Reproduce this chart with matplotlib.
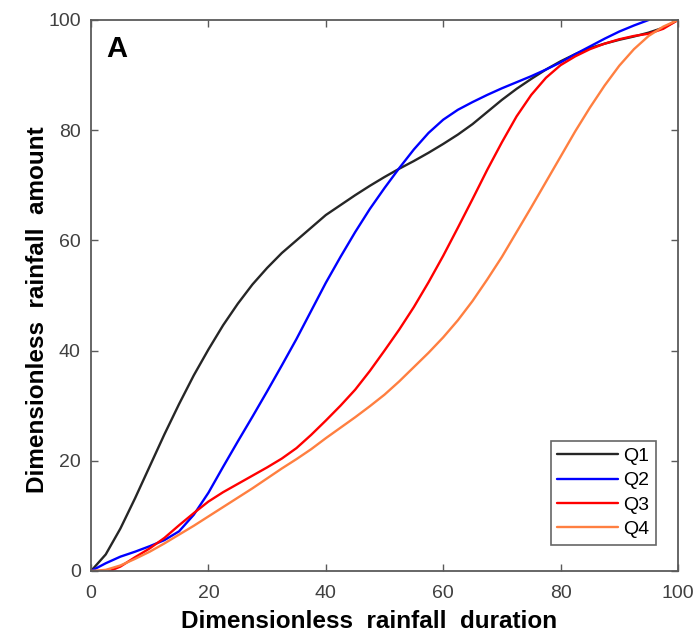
import numpy as np
import matplotlib
matplotlib.use("Agg")
import matplotlib.pyplot as plt

plt.rcParams['font.family'] = ['Liberation Sans', 'DejaVu Sans']

# dimensionless duration (x) sampled every 2.5
duration = np.arange(0, 100.1, 2.5)

q1 = [0, 3, 7.7, 13.2, 19, 24.8, 30.3, 35.5, 40.2, 44.6, 48.5, 52, 55, 57.7,
      60, 62.3, 64.6, 66.4, 68.2, 69.9, 71.5, 73, 74.4, 75.9, 77.5, 79.2,
      81.1, 83.3, 85.5, 87.5, 89.3, 91, 92.5, 93.8, 94.9, 95.7, 96.4, 97,
      97.7, 98.6, 100]

# Q2 ends at duration 95
q2 = [0, 1.4, 2.6, 3.5, 4.5, 5.6, 7.2, 10.2, 14.2, 18.9, 23.5, 28, 32.6,
      37.3, 42.1, 47.2, 52.3, 57, 61.5, 65.7, 69.5, 73.1, 76.5, 79.5, 81.9,
      83.7, 85.1, 86.4, 87.6, 88.7, 89.8, 91, 92.3, 93.8, 95.2, 96.6, 97.9,
      99, 100]

q3 = [0, -0.3, 0.8, 2.5, 4.1, 6, 8.3, 10.5, 12.6, 14.3, 15.8, 17.3, 18.8,
      20.4, 22.3, 24.7, 27.3, 30, 32.9, 36.3, 40, 43.8, 47.9, 52.4, 57.2,
      62.3, 67.5, 72.8, 77.8, 82.5, 86.4, 89.5, 91.8, 93.4, 94.7, 95.7, 96.5,
      97.1, 97.5, 98.4, 100]

q4 = [0, 0.2, 1, 2.2, 3.5, 5, 6.6, 8.2, 9.9, 11.6, 13.3, 15, 16.8, 18.6,
      20.3, 22.1, 24.1, 26, 27.9, 29.9, 32, 34.4, 37, 39.6, 42.4, 45.5, 49,
      52.9, 57, 61.5, 66, 70.6, 75.2, 79.8, 84.1, 88.1, 91.7, 94.7, 97.1,
      98.8, 100]

series = [("Q1", q1, "#262626"), ("Q2", q2, "#0000FF"),
          ("Q3", q3, "#FF0000"), ("Q4", q4, "#FF7F40")]

fig = plt.figure(figsize=(6.95, 6.34), dpi=100)
ax = fig.add_axes([0.131, 0.0994, 0.8445, 0.8691])

for name, vals, col in series:
    ax.plot(duration[:len(vals)], vals, color=col, lw=1.7, label=name,
            solid_capstyle='round', solid_joinstyle='round')

ax.set_xlim(0, 100)
ax.set_ylim(0, 100)
ax.set_xticks([0, 20, 40, 60, 80, 100])
ax.set_yticks([0, 20, 40, 60, 80, 100])

for s in ax.spines.values():
    s.set_color("#5a5a5a")
    s.set_linewidth(1.3)
ax.tick_params(direction='in', length=5, width=1, color="#5a5a5a",
               top=True, right=True, labelsize=14, labelcolor="#404040")
ax.tick_params(axis='x', pad=10)
ax.tick_params(axis='y', pad=7.5)

ax.set_xlabel("Dimensionless  rainfall  duration", fontsize=17.5,
              fontweight='bold', va='top')
ax.set_ylabel("Dimensionless  rainfall  amount", fontsize=17.5,
              fontweight='bold', va='center')
ax.xaxis.set_label_coords(0.474, -0.071)
ax.yaxis.set_label_coords(-0.091, 0.474)

ax.text(0.0256, 0.973, "A", transform=ax.transAxes, fontsize=21,
        fontweight='bold', va='top', ha='left')

leg = ax.legend(loc='lower right', bbox_to_anchor=(0.962, 0.047),
                fontsize=14, frameon=True, fancybox=False, borderpad=0.35,
                handlelength=3.1, handletextpad=0.26, labelspacing=0.35,
                borderaxespad=0)
leg.get_frame().set_edgecolor("#404040")
leg.get_frame().set_linewidth(1.2)

fig.savefig("out.png", dpi=100)
